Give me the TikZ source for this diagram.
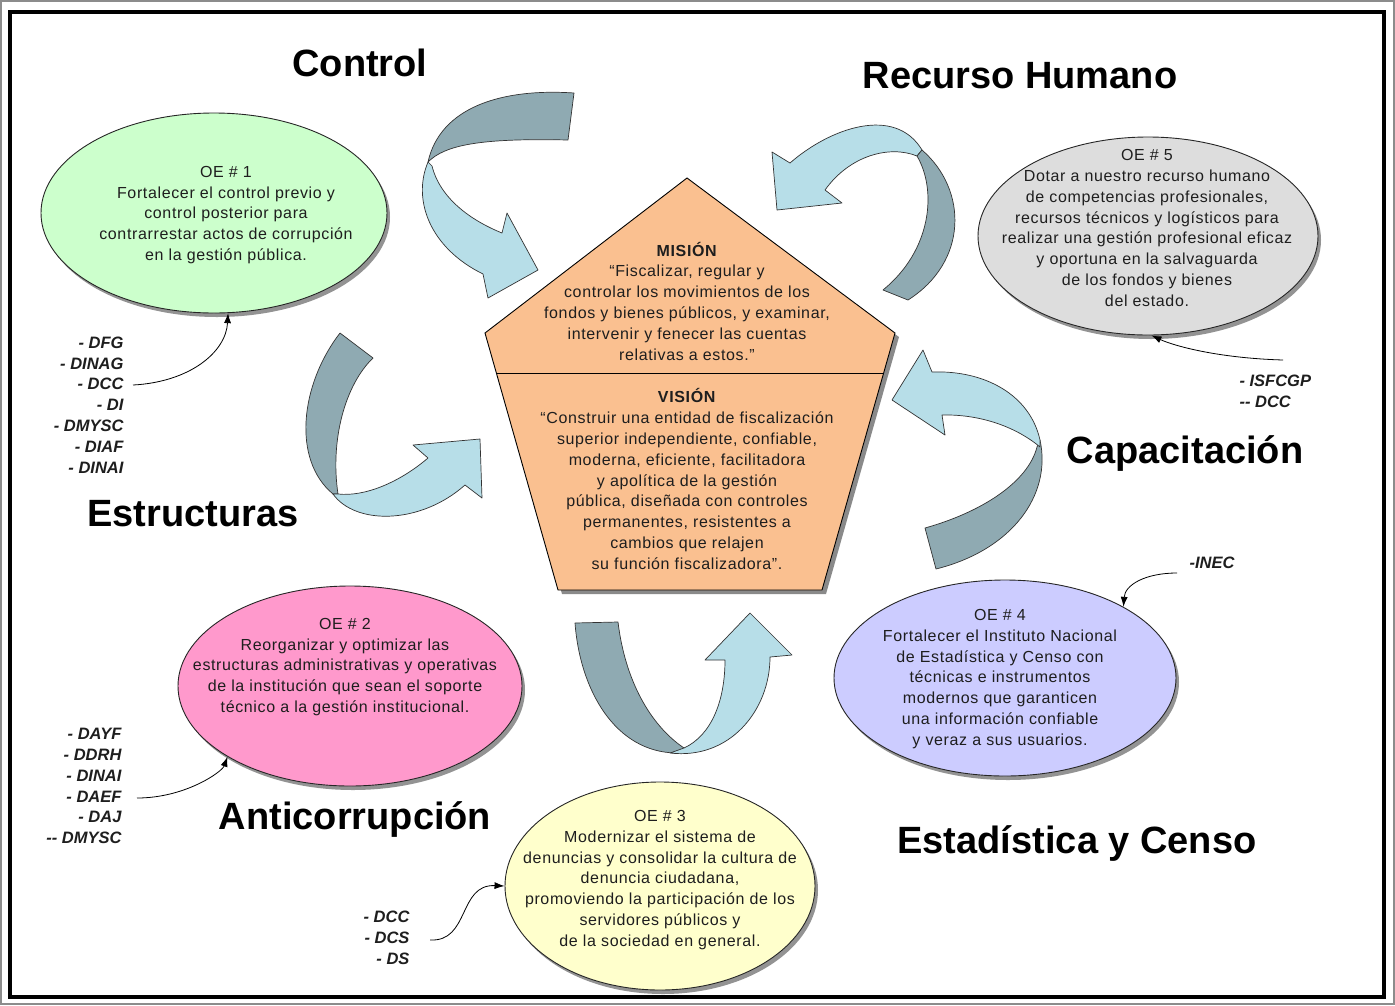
\documentclass[tikz,border=0pt]{standalone}
\usepackage{fontspec}
\setmainfont{Liberation Sans}
\newfontfamily\bodyf[LetterSpace=4]{Liberation Sans}
\usetikzlibrary{arrows.meta,shapes.geometric,shadows}
\definecolor{oegreen}{RGB}{204,255,204}
\definecolor{oepink}{RGB}{255,153,204}
\definecolor{oeyellow}{RGB}{255,255,204}
\definecolor{oeblue}{RGB}{204,204,255}
\definecolor{oegray}{RGB}{221,221,221}
\definecolor{penta}{RGB}{250,192,144}
\definecolor{ribdark}{RGB}{143,170,178}
\definecolor{riblight}{RGB}{183,222,232}
\definecolor{txtc}{RGB}{30,30,30}
\tikzset{
  oeell/.style={ellipse, draw=black!85, line width=0.9pt, inner sep=0pt,
    drop shadow={shadow xshift=3pt, shadow yshift=-4pt, fill=black!70, opacity=0.6}},
  oetext/.style={font=\bodyf\fontsize{16}{20.8}\selectfont, align=center, text=txtc},
  titletext/.style={font=\bfseries\fontsize{38}{44}\selectfont},
  lbl/.style={font=\bfseries\itshape\fontsize{16.5}{20.8}\selectfont, text=txtc},
  conn/.style={-{Latex[length=10pt,width=7pt]}, line width=0.8pt},
  ribd/.style={fill=ribdark, draw=black!80, line width=0.7pt, line join=round},
  ribl/.style={fill=riblight, draw=black!80, line width=0.7pt, line join=round}
}
\begin{document}
\begin{tikzpicture}[x=1pt,y=-1pt]
\useasboundingbox (0,0) rectangle (1395,1005);
\fill[white] (0,0) rectangle (1395,1005);
\draw[black!45, line width=1.5pt] (1,1) rectangle (1394,1004);
\draw[line width=3.5pt] (10,12) rectangle (1384,997);

% titles
\node[titletext] (tcontrol) at (360,63) {Control};
\node[titletext] (trecurso) at (1020,76) {Recurso Humano};
\node[titletext] (tcapac) at (1185,453) {Capacitación};
\node[titletext] (testruc) at (193,514) {Estructuras};
\node[titletext] (tanti) at (355,819) {Anticorrupción};
\node[titletext] (testad) at (1077,843) {Estadística y Censo};

% pentagon
\coordinate (pA) at (687,178);
\coordinate (pL) at (485,333);
\coordinate (pR) at (895,333);
\coordinate (pBL) at (558,590);
\coordinate (pBR) at (822,590);
\coordinate (dL) at (496,373);
\coordinate (dR) at (884,373);
\fill[black!65, opacity=0.7] ([shift={(4,4)}]pA) -- ([shift={(4,4)}]pR) -- ([shift={(4,4)}]pBR) -- ([shift={(4,4)}]pBL) -- ([shift={(4,4)}]pL) -- cycle;
\draw[fill=penta, line width=0.9pt, line join=miter] (pA) -- (pR) -- (pBR) -- (pBL) -- (pL) -- cycle;
\draw[line width=0.9pt] (dL) -- (dR);
\node[oetext] (mision) at (687,301) {\textbf{MISIÓN}\\“Fiscalizar, regular y\\controlar los movimientos de los\\fondos y bienes públicos, y examinar,\\intervenir y fenecer las cuentas\\relativas a estos.”};
\node[oetext] (vision) at (687,479) {\textbf{VISIÓN}\\“Construir una entidad de fiscalización\\superior independiente, confiable,\\moderna, eficiente, facilitadora\\y apolítica de la gestión\\pública, diseñada con controles\\permanentes, resistentes a\\cambios que relajen\\su función fiscalizadora”.};

% ellipses
\node[oeell, fill=oegreen, minimum width=346pt, minimum height=200pt] (oe1) at (214,213) {};
\node[oetext] (oe1t) at (226,215) {OE \# 1\\Fortalecer el control previo y\\control posterior para\\contrarrestar actos de corrupción\\en la gestión pública.};
\node[oeell, fill=oegray, minimum width=340pt, minimum height=198pt] (oe5) at (1148,236) {};
\node[oetext] (oe5t) at (1147,228) {OE \# 5\\Dotar a nuestro recurso humano\\de competencias profesionales,\\recursos técnicos y logísticos para\\realizar una gestión profesional eficaz\\y oportuna en la salvaguarda\\de los fondos y bienes\\del estado.};
\node[oeell, fill=oepink, minimum width=344pt, minimum height=200pt] (oe2) at (350,686) {};
\node[oetext] (oe2t) at (345,667) {OE \# 2\\Reorganizar y optimizar las\\estructuras administrativas y operativas\\de la institución que sean el soporte\\técnico a la gestión institucional.};
\node[oeell, fill=oeblue, minimum width=342pt, minimum height=196pt] (oe4) at (1005,678) {};
\node[oetext] (oe4t) at (1000,679) {OE \# 4\\Fortalecer el Instituto Nacional\\de Estadística y Censo con\\técnicas e instrumentos\\modernos que garanticen\\una información confiable\\y veraz a sus usuarios.};
\node[oeell, fill=oeyellow, minimum width=310pt, minimum height=208pt] (oe3) at (660,886) {};
\node[oetext] (oe3t) at (660,880) {OE \# 3\\Modernizar el sistema de\\denuncias y consolidar la cultura de\\denuncia ciudadana,\\promoviendo la participación de los\\servidores públicos y\\de la sociedad en general.};

% labels
\node[lbl, align=right, anchor=east] (l1) at (127,405) {- DFG\\- DINAG\\- DCC\\- DI\\- DMYSC\\- DIAF\\- DINAI};
\node[lbl, align=right, anchor=east] (l2) at (125,786) {- DAYF\\- DDRH\\- DINAI\\- DAEF\\- DAJ\\-{}- DMYSC};
\node[lbl, align=right, anchor=east] (l3) at (413,938) {- DCC\\- DCS\\- DS};
\node[lbl] (l4) at (1212,563) {-INEC};
\node[lbl, align=left, anchor=west] (l5) at (1236,391) {- ISFCGP\\-{}- DCC};

% connectors
\coordinate (s1) at (133,385);
\coordinate (s2) at (137,798);
\coordinate (s3) at (430,940);
\coordinate (s4) at (1177,573);
\coordinate (s5) at (1283,360);
\draw[conn] (s1) .. controls (190,382) and (226,352) .. (oe1.-82);
\draw[conn] (s2) .. controls (185,798) and (222,772) .. (oe2.-150);
\draw[conn] (s3) .. controls (470,942) and (458,884) .. (oe3.west);
\draw[conn] (s4) .. controls (1145,573) and (1125,585) .. (oe4.31);
\draw[conn] (s5) .. controls (1215,358) and (1172,345) .. (oe5.-88);

% ribbon arrows
% Control
\draw[ribd] (574,93) .. controls (500,88) and (440,108) .. (428,162) .. controls (445,145) and (480,138) .. (568,140) -- cycle;
\draw[ribl] (428,162) .. controls (412,200) and (430,248) .. (483,274) -- (488,298) -- (538,270) -- (507,213) -- (502,233) .. controls (470,220) and (440,198) .. (432,166) -- cycle;
% Estructuras
\draw[ribd] (340,333) .. controls (300,385) and (292,460) .. (333,494) -- (338,494) .. controls (330,440) and (345,385) .. (373,358) -- cycle;
\draw[ribl] (333,494) .. controls (355,525) and (420,525) .. (465,485) -- (482,498) -- (480,439) -- (413,445) -- (428,458) .. controls (400,482) and (365,497) .. (338,494) -- cycle;
% Anticorrupcion
\draw[ribd] (575,623) .. controls (580,690) and (615,752) .. (676,753) -- (684,748) .. controls (650,725) and (625,680) .. (618,622) -- cycle;
\draw[ribl] (670,753) .. controls (730,760) and (770,710) .. (770,657) -- (792,655) -- (750,613) -- (705,660) -- (725,660) .. controls (725,700) and (712,735) .. (684,748) -- cycle;
% Capacitacion
\draw[ribd] (1040,440) .. controls (1052,495) and (1012,550) .. (936,569) -- (925,528) .. controls (982,512) and (1028,482) .. (1037,447) -- cycle;
\draw[ribl] (932,372) .. controls (985,370) and (1030,395) .. (1040,440) -- (1040,447) .. controls (1020,430) and (985,414) .. (942,415) -- (945,435) -- (892,400) -- (923,350) -- cycle;
% Recurso Humano
\draw[ribl] (790,163) .. controls (830,128) and (895,105) .. (922,150) -- (917,156) .. controls (890,145) and (850,155) .. (825,190) -- (842,203) -- (777,210) -- (772,152) -- cycle;
\draw[ribd] (922,150) .. controls (968,190) and (968,262) .. (908,300) -- (883,290) .. controls (932,250) and (937,190) .. (917,156) -- cycle;
\end{tikzpicture}
\end{document}
